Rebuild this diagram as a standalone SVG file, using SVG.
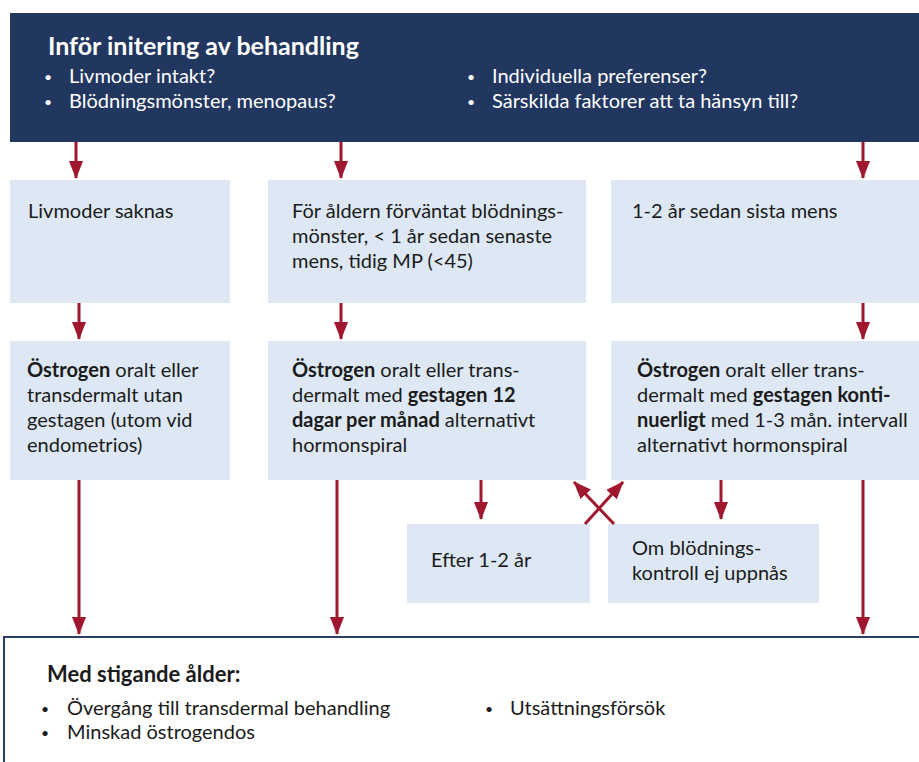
<svg xmlns="http://www.w3.org/2000/svg" width="919" height="762" viewBox="0 0 919 762">
<style>
text{font-family:"Lato","Open Sans","Liberation Sans",sans-serif;fill:#1b1b1b;font-size:20px}
.hd text{fill:#ffffff}
.b{font-weight:bold}
.dot{font-size:14px}
.box{fill:#dde8f4}
.conn line{stroke:#a0182f;stroke-width:3;marker-end:url(#ah)}
</style>
<defs>
<marker id="ah" markerUnits="userSpaceOnUse" markerWidth="18" markerHeight="14" refX="17" refY="7" orient="auto">
<path d="M0,0 L18,7 L0,14 z" fill="#a0182f"/>
</marker>
</defs>
<rect width="919" height="762" fill="#ffffff"/>
<g id="header" class="hd">
<rect x="10" y="13" width="909" height="129" fill="#21375f"/>
<text x="48" y="55" class="b" style="font-size:25px">Inför initering av behandling</text>
<text x="44" y="82" class="dot">•</text><text x="69" y="83">Livmoder intakt?</text>
<text x="44" y="107" class="dot">•</text><text x="69" y="108">Blödningsmönster, menopaus?</text>
<text x="467" y="82" class="dot">•</text><text x="492" y="83">Individuella preferenser?</text>
<text x="467" y="107" class="dot">•</text><text x="492" y="108">Särskilda faktorer att ta hänsyn till?</text>
</g>
<g id="n1">
<rect class="box" x="10" y="180" width="220" height="123"/>
<text x="28" y="218">Livmoder saknas</text>
</g>
<g id="n2">
<rect class="box" x="268" y="180" width="318" height="123"/>
<text x="292" y="218">För åldern förväntat blödnings-</text>
<text x="292" y="243">mönster, &lt; 1 år sedan senaste</text>
<text x="292" y="268">mens, tidig MP (&lt;45)</text>
</g>
<g id="n3">
<rect class="box" x="611" y="180" width="308" height="123"/>
<text x="632" y="218">1-2 år sedan sista mens</text>
</g>
<g id="n4">
<rect class="box" x="10" y="341" width="220" height="139"/>
<text x="27" y="377"><tspan class="b">Östrogen</tspan> oralt eller</text>
<text x="27" y="402">transdermalt utan</text>
<text x="27" y="427">gestagen (utom vid</text>
<text x="27" y="452">endometrios)</text>
</g>
<g id="n5">
<rect class="box" x="268" y="341" width="318" height="139"/>
<text x="292" y="377"><tspan class="b">Östrogen</tspan> oralt eller trans-</text>
<text x="292" y="402">dermalt med <tspan class="b">gestagen 12</tspan></text>
<text x="292" y="427"><tspan class="b">dagar per månad</tspan> alternativt</text>
<text x="292" y="452">hormonspiral</text>
</g>
<g id="n6">
<rect class="box" x="611" y="341" width="308" height="139"/>
<text x="637" y="377"><tspan class="b">Östrogen</tspan> oralt eller trans-</text>
<text x="637" y="402">dermalt med <tspan class="b">gestagen konti-</tspan></text>
<text x="637" y="427"><tspan class="b">nuerligt</tspan> med 1-3 mån. intervall</text>
<text x="637" y="452">alternativt hormonspiral</text>
</g>
<g id="n7">
<rect class="box" x="407" y="524" width="183" height="79"/>
<text x="431" y="567">Efter 1-2 år</text>
</g>
<g id="n8">
<rect class="box" x="608" y="524" width="211" height="79"/>
<text x="632" y="555">Om blödnings-</text>
<text x="632" y="580">kontroll ej uppnås</text>
</g>
<g id="n9">
<rect x="4" y="637" width="917" height="130" fill="#ffffff" stroke="#2a3f66" stroke-width="2"/>
<text x="47" y="682" class="b" style="font-size:22px">Med stigande ålder:</text>
<text x="41" y="714" class="dot">•</text><text x="67" y="715">Övergång till transdermal behandling</text>
<text x="41" y="738" class="dot">•</text><text x="67" y="739">Minskad östrogendos</text>
<text x="485" y="714" class="dot">•</text><text x="510" y="715">Utsättningsförsök</text>
</g>
<g id="connectors" class="conn">
<line x1="76" y1="142" x2="76" y2="178"/>
<line x1="341" y1="142" x2="341" y2="178"/>
<line x1="863" y1="142" x2="863" y2="178"/>
<line x1="79" y1="303" x2="79" y2="339"/>
<line x1="341" y1="303" x2="341" y2="339"/>
<line x1="863" y1="303" x2="863" y2="339"/>
<line x1="481" y1="480" x2="481" y2="519"/>
<line x1="721" y1="480" x2="721" y2="519"/>
<line x1="585" y1="524" x2="623" y2="482"/>
<line x1="614" y1="524" x2="574" y2="482"/>
<line x1="79" y1="480" x2="79" y2="634"/>
<line x1="337" y1="480" x2="337" y2="634"/>
<line x1="863" y1="480" x2="863" y2="634"/>
</g>
</svg>
